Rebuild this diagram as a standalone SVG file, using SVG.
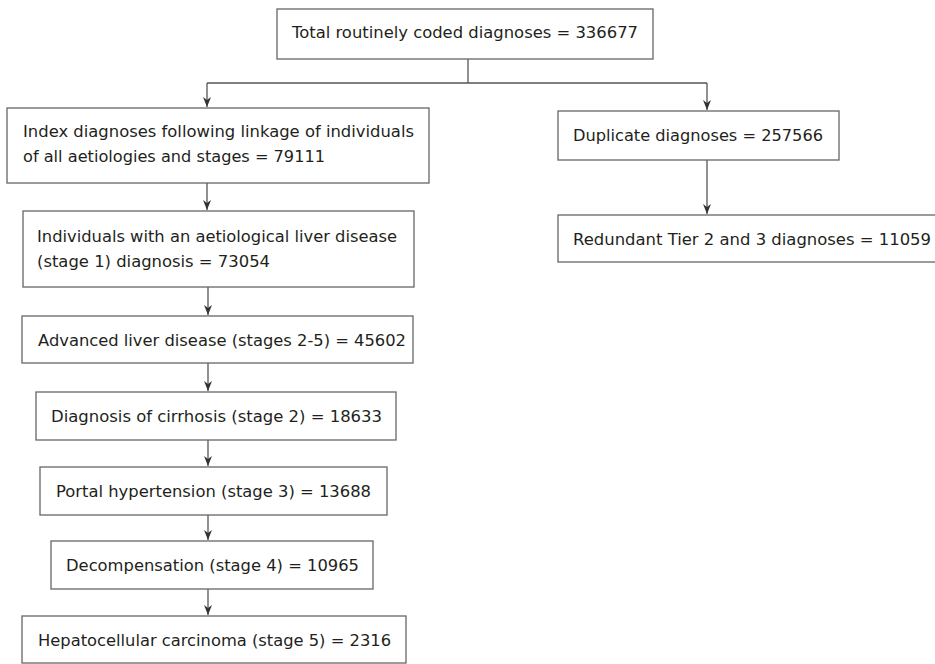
<svg xmlns="http://www.w3.org/2000/svg" width="935" height="664" viewBox="0 0 935 664">
<defs>
<marker id="ah" markerWidth="10" markerHeight="8" refX="10" refY="4" orient="auto" markerUnits="userSpaceOnUse" viewBox="0 0 10 8">
<path d="M0,0 L10,4 L0,8 L3,4 Z" fill="#333"/>
</marker>
<style>
rect{fill:#fff;stroke:#666;stroke-width:1.3}
text{font-family:"DejaVu Sans","Verdana",sans-serif;font-size:16px;fill:#231f20}
.c path{fill:none;stroke:#555;stroke-width:1.3}
</style>
</defs>
<rect x="0" y="0" width="935" height="664" style="fill:#fff;stroke:none"/>
<g class="c" id="connectors">
<path d="M468,59 V83"/>
<path d="M207,83 H707"/>
<path d="M207,83 V107" marker-end="url(#ah)"/>
<path d="M707,83 V110" marker-end="url(#ah)"/>
<path d="M207,183 V210" marker-end="url(#ah)"/>
<path d="M707,160 V214" marker-end="url(#ah)"/>
<path d="M208,287 V315" marker-end="url(#ah)"/>
<path d="M208,363 V391" marker-end="url(#ah)"/>
<path d="M208,440 V466" marker-end="url(#ah)"/>
<path d="M208,515 V540" marker-end="url(#ah)"/>
<path d="M208,589 V615" marker-end="url(#ah)"/>
</g>
<g id="n-total"><rect x="277" y="9" width="376" height="50"/><text x="292" y="38" textLength="346" lengthAdjust="spacingAndGlyphs">Total routinely coded diagnoses = 336677</text></g>
<g id="n-index"><rect x="7" y="108" width="422" height="75"/><text x="23" y="137" textLength="391" lengthAdjust="spacingAndGlyphs">Index diagnoses following linkage of individuals</text><text x="23" y="162" textLength="302" lengthAdjust="spacingAndGlyphs">of all aetiologies and stages = 79111</text></g>
<g id="n-stage1"><rect x="23" y="211" width="391" height="76"/><text x="37" y="242" textLength="360" lengthAdjust="spacingAndGlyphs">Individuals with an aetiological liver disease</text><text x="37" y="267" textLength="233" lengthAdjust="spacingAndGlyphs">(stage 1) diagnosis = 73054</text></g>
<g id="n-advanced"><rect x="22" y="316" width="391" height="47"/><text x="38" y="346" textLength="368" lengthAdjust="spacingAndGlyphs">Advanced liver disease (stages 2-5) = 45602</text></g>
<g id="n-cirrhosis"><rect x="36" y="392" width="360" height="48"/><text x="51" y="422" textLength="331" lengthAdjust="spacingAndGlyphs">Diagnosis of cirrhosis (stage 2) = 18633</text></g>
<g id="n-portal"><rect x="40" y="467" width="347" height="48"/><text x="56" y="497" textLength="315" lengthAdjust="spacingAndGlyphs">Portal hypertension (stage 3) = 13688</text></g>
<g id="n-decomp"><rect x="51" y="541" width="322" height="48"/><text x="66" y="571" textLength="293" lengthAdjust="spacingAndGlyphs">Decompensation (stage 4) = 10965</text></g>
<g id="n-hcc"><rect x="22" y="616" width="384" height="47"/><text x="38" y="646" textLength="353" lengthAdjust="spacingAndGlyphs">Hepatocellular carcinoma (stage 5) = 2316</text></g>
<g id="n-duplicate"><rect x="558" y="111" width="281" height="49"/><text x="573" y="141" textLength="250" lengthAdjust="spacingAndGlyphs">Duplicate diagnoses = 257566</text></g>
<g id="n-redundant"><rect x="558" y="215" width="390" height="47"/><text x="573" y="245" textLength="358" lengthAdjust="spacingAndGlyphs">Redundant Tier 2 and 3 diagnoses = 11059</text></g>
</svg>
